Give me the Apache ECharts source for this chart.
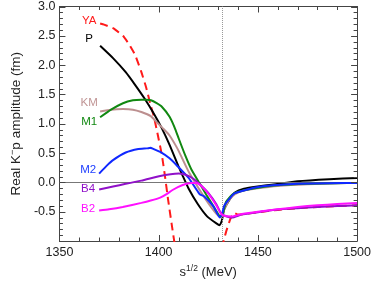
<!DOCTYPE html>
<html><head><meta charset="utf-8">
<script src="https://cdn.jsdelivr.net/npm/echarts@6/dist/echarts.min.js"></script>
<style>html,body{margin:0;padding:0;background:#fff}#c{width:374px;height:284px}</style>
</head><body><div id="c"></div>
<script>
// ---- data ----
const threshold = 1431.8;
const xTicks = [1350, 1400, 1450, 1500];
const yTicks = [-0.5, 0.0, 0.5, 1.0, 1.5, 2.0, 2.5, 3.0];

const ya_s = [1370.5,1372.5,1377,1382,1385,1388.2,1391.3,1393.7,1395.7,1397.6,1399.5,1401.6,1403.2,1404.7,1406.5,1408.5,1420,1431.8,1434,1436.2,1438,1440,1450,1460,1470,1480,1490,1500];
const ya_v = [2.71,2.69,2.63,2.50,2.36,2.17,1.88,1.62,1.35,1.12,0.82,0.47,0.10,-0.28,-0.70,-1.15,null,-1.12,-0.84,-0.62,-0.52,-0.55,-0.51,-0.47,-0.44,-0.42,-0.405,-0.39];

const p_s = [1370.5,1377,1383.4,1388.2,1392.9,1397.6,1401.5,1405.5,1409.9,1412,1415,1419.7,1424.4,1429.1,1430.7,1431.8,1433,1436.2,1438.6,1443,1448,1459,1470,1486,1500];
const p_v = [2.33,2.12,1.88,1.66,1.43,1.17,0.93,0.64,0.28,0.12,-0.10,-0.37,-0.58,-0.70,-0.73,-0.66,-0.46,-0.27,-0.17,-0.11,-0.08,-0.03,0.02,0.055,0.075];

const km_s = [1370.5,1376,1382,1387,1391.3,1396,1399.2,1402.5,1405.5,1409.4,1412,1415,1418.5,1422,1426,1429.5,1431.5,1433,1435.5,1438.5,1443,1450,1460,1475,1490,1500];
const km_v = [1.21,1.24,1.25,1.24,1.20,1.13,1.02,0.91,0.80,0.58,0.40,0.19,-0.01,-0.20,-0.40,-0.55,-0.60,-0.47,-0.30,-0.20,-0.14,-0.10,-0.06,-0.03,-0.015,-0.01];

const m1_s = [1370.5,1376,1382,1387,1391.3,1394,1396.1,1399,1401.6,1405.5,1408,1410.2,1413.4,1416.5,1420.5,1424,1428,1431,1432.2,1434,1437,1440,1445,1450,1460,1475,1490,1500];
const m1_v = [1.11,1.24,1.35,1.40,1.41,1.41,1.40,1.35,1.29,1.12,0.94,0.74,0.46,0.22,-0.01,-0.21,-0.43,-0.58,-0.55,-0.33,-0.21,-0.16,-0.12,-0.09,-0.05,-0.025,-0.015,-0.01];

const m2_s = [1370,1374,1377,1383.4,1389.8,1394,1396,1397,1400.8,1405.5,1409.4,1415,1420,1421,1423,1427.6,1430.8,1431.9,1433,1435.4,1438,1443.3,1448,1457.5,1470,1485,1500];
const m2_v = [0.15,0.29,0.38,0.51,0.57,0.58,0.59,0.575,0.52,0.41,0.28,0.08,-0.17,-0.21,-0.24,-0.41,-0.60,-0.55,-0.40,-0.29,-0.19,-0.135,-0.09,-0.05,-0.025,-0.015,-0.01];

const b4_s = [1370,1377,1383.4,1391.3,1400.8,1406,1410.2,1415,1418,1421,1425,1429,1431.3,1432.6,1437,1441.8,1450,1457.5,1470,1480,1490,1500];
const b4_v = [-0.12,-0.07,-0.025,0.03,0.11,0.14,0.15,0.11,0.05,-0.04,-0.18,-0.37,-0.52,-0.56,-0.60,-0.55,-0.51,-0.47,-0.44,-0.42,-0.405,-0.39];

const b2_s = [1370,1375,1381.9,1391.3,1396,1400.8,1404,1407,1411.8,1416.5,1419,1421.5,1425,1429,1431.3,1433,1437,1442,1450,1460,1470,1480,1490,1500];
const b2_v = [-0.48,-0.46,-0.42,-0.35,-0.31,-0.26,-0.20,-0.13,-0.05,-0.01,-0.01,-0.06,-0.19,-0.39,-0.53,-0.57,-0.58,-0.54,-0.50,-0.46,-0.42,-0.39,-0.37,-0.35];

const seriesNames = ['YA','P','KM','M1','M2','B4','B2'];
const seriesS = [ya_s,p_s,km_s,m1_s,m2_s,b4_s,b2_s];
const seriesV = [ya_v,p_v,km_v,m1_v,m2_v,b4_v,b2_v];

// ---- styles ----
const FONT = '"Liberation Sans", Arial, Helvetica, sans-serif';
const colors = ['#ff1a1a','#000000','#bc8f8f','#118811','#1028ff','#9010c8','#ff10ff'];
const labelColors = ['#ff1a1a','#000000','#c09595','#118811','#2040ff','#9010c8','#ff10ff'];
const labelDy = [-3,-7,-9,5,-4,-1,-2];
const AX = '#444';
const X_MIN = 1350, X_MAX = 1500, Y_MIN = -1, Y_MAX = 3;

(function(){
const chart = echarts.init(document.getElementById('c'));
const series = seriesNames.map((n,i)=>({
  name:n, type:'line', showSymbol:false, symbol:'none', smooth:0.15,
  connectNulls:false, clip:true, z: 3+i,
  lineStyle:{color:colors[i], width:2, type: n==='YA'?[8,5]:'solid'},
  data: seriesS[i].map((s,k)=>[s, seriesV[i][k]])
}));
series.push({
  type:'line', data:[], silent:true, z:1,
  markLine:{silent:true, symbol:'none', label:{show:false},
    data:[
      {xAxis:threshold, lineStyle:{color:'#999', width:1, type:[1,1]}},
      {yAxis:0, lineStyle:{color:'#777', width:1.2, type:'solid'}}
    ]}
});

const axLine = () => ({show:true, onZero:false, lineStyle:{color:AX, width:1}});

chart.setOption({
  animation:false,
  grid:{left:42.6, right:14, top:5.4, bottom:34.2},
  xAxis:[{
    type:'value', min:X_MIN, max:X_MAX, interval:50,
    axisLine:axLine(), axisTick:{show:false}, minorTick:{show:false},
    splitLine:{show:false},
    axisLabel:{show:true, margin:5, fontFamily:FONT, fontSize:12.5, color:'#222', formatter:v=>String(v)},
    name:'{a|s}{b|1/2}{a| (MeV)}', nameLocation:'middle', nameGap:23,
    nameTextStyle:{fontFamily:FONT, rich:{a:{fontFamily:FONT,fontSize:13,color:'#222'}, b:{fontFamily:FONT,fontSize:8.5,color:'#222',verticalAlign:'top',padding:[0,0,8,0]}}}
  },{
    type:'value', position:'top', min:X_MIN, max:X_MAX, interval:50,
    axisLine:axLine(), axisTick:{show:false}, minorTick:{show:false},
    splitLine:{show:false}, axisLabel:{show:false}
  }],
  yAxis:[{
    type:'value', min:Y_MIN, max:Y_MAX, interval:0.5,
    axisLine:axLine(), axisTick:{show:false}, minorTick:{show:false},
    splitLine:{show:false},
    axisLabel:{show:true, showMinLabel:false, margin:4, fontFamily:FONT, fontSize:12.5, color:'#222', formatter:v=>v.toFixed(1)},
    name:'{a|Real K}{b|−}{a|p amplitude (fm)}', nameLocation:'middle', nameRotate:90, nameGap:35,
    nameTextStyle:{fontFamily:FONT, rich:{a:{fontFamily:FONT,fontSize:13.5,color:'#222'}, b:{fontFamily:FONT,fontSize:9,color:'#222',padding:[0,0,7,0]}}}
  },{
    type:'value', position:'right', min:Y_MIN, max:Y_MAX, interval:0.5,
    axisLine:axLine(), axisTick:{show:false}, minorTick:{show:false},
    splitLine:{show:false}, axisLabel:{show:false}
  }],
  series: series
});

const toPx = (x,y) => chart.convertToPixel({xAxisIndex:0, yAxisIndex:0}, [x,y]);
const graphics = [];

// inward ticks on all four sides (major every 50 / 0.5, minor every 10 / 0.1)
const pTL = toPx(X_MIN, Y_MAX), pBR = toPx(X_MAX, Y_MIN);
const gL = pTL[0], gT = pTL[1], gR = pBR[0], gB = pBR[1];
const tickStyle = {stroke:AX, lineWidth:1};
for (let k = 0; k <= (X_MAX - X_MIN) / 10; k++) {
  const xv = X_MIN + k*10;
  const len = (xv % 50 === 0) ? 6 : 3.5;
  const px = Math.round(toPx(xv, 0)[0]) + 0.5;
  graphics.push({type:'line', silent:true, z:50, shape:{x1:px, y1:gB, x2:px, y2:gB-len}, style:tickStyle});
  graphics.push({type:'line', silent:true, z:50, shape:{x1:px, y1:gT, x2:px, y2:gT+len}, style:tickStyle});
}
for (let k = 0; k <= Math.round((Y_MAX - Y_MIN) / 0.1); k++) {
  const yv = Y_MIN + k*0.1;
  const len = (k % 5 === 0) ? 6 : 3.5;
  const py = Math.round(toPx(X_MIN, yv)[1]) + 0.5;
  graphics.push({type:'line', silent:true, z:50, shape:{x1:gL, y1:py, x2:gL+len, y2:py}, style:tickStyle});
  graphics.push({type:'line', silent:true, z:50, shape:{x1:gR, y1:py, x2:gR-len, y2:py}, style:tickStyle});
}

// curve name labels placed next to each curve's first point
seriesNames.forEach((n,i)=>{
  const pt = toPx(seriesS[i][0], seriesV[i][0]);
  graphics.push({type:'text', x:pt[0]-11, y:pt[1]+labelDy[i], z:100,
    style:{text:n, fill:labelColors[i], font:'11.5px '+FONT, align:'center', verticalAlign:'middle'}});
});
chart.setOption({graphic:graphics});
})();
</script>
</body></html>
